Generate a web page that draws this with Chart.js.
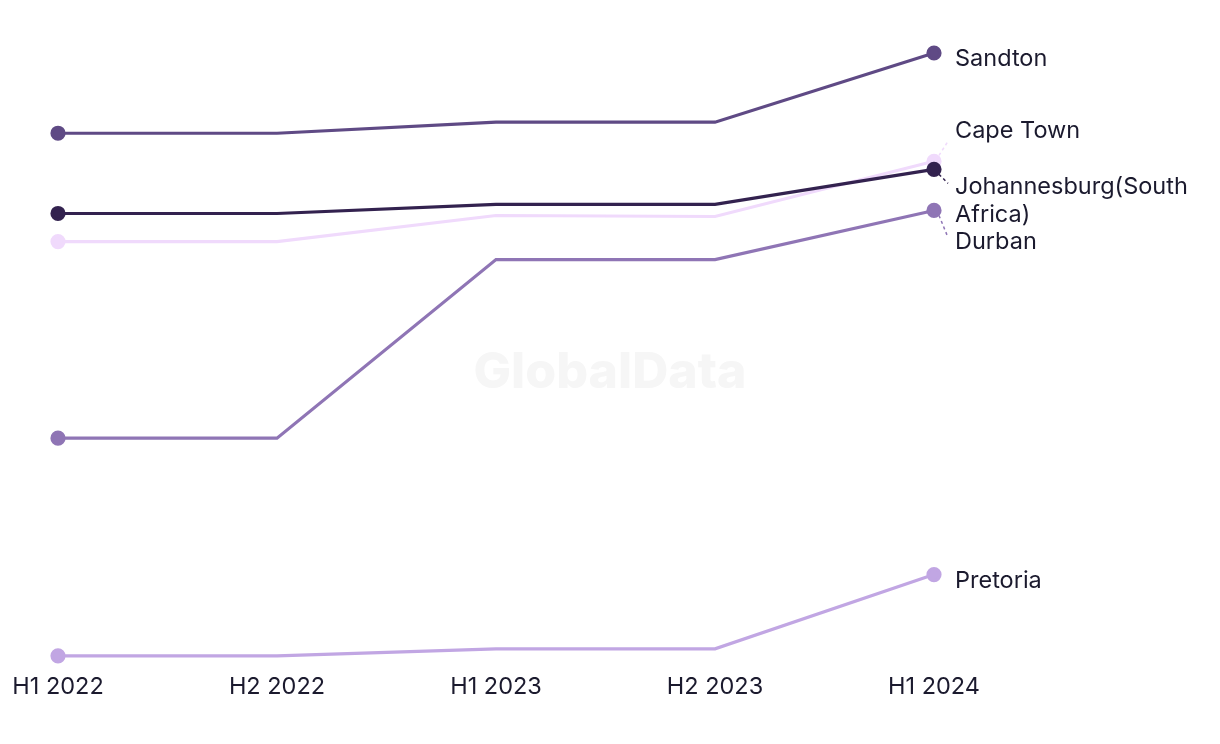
<!DOCTYPE html>
<html>
<head>
<meta charset="utf-8">
<script src="https://cdn.jsdelivr.net/npm/chart.js@4"></script>
<style>
html,body{margin:0;padding:0;background:#fff}
#wrap{position:relative;width:1220px;height:744px}
</style>
</head>
<body>
<div id="wrap"><canvas id="chart"></canvas></div>
<script>
// data (arbitrary index units)
const periods = ['H1 2022', 'H2 2022', 'H1 2023', 'H2 2023', 'H1 2024']
const cities = ['Sandton', 'Johannesburg(South Africa)', 'Cape Town', 'Durban', 'Pretoria']
const sandton = [56.7, 56.7, 57.8, 57.8, 64.7]
const johannesburg = [48.7, 48.7, 49.6, 49.6, 53.1]
const capeTown = [45.9, 45.9, 48.5, 48.4, 53.9]
const durban = [26.3, 26.3, 44.1, 44.1, 49.0]
const pretoria = [4.6, 4.6, 5.3, 5.3, 12.7]

// styles
const colors = ['#5f4a85', '#33224f', '#f0dafc', '#8f75b5', '#c1a6e3']
const labelShift = [6, 18, -30, 31, 6]   // vertical nudge of end labels
const textColor = '#1b1a2e'
const fontFamily = 'Inter, "Liberation Sans", sans-serif'

const series = [sandton, johannesburg, capeTown, durban, pretoria]

const datasets = series.map((vals, i) => ({
  label: cities[i],
  data: vals,
  borderColor: colors[i],
  backgroundColor: colors[i],
  borderWidth: 3.2,
  pointRadius: vals.map((v, j) => (j == 0 || j == vals.length - 1) ? 6 : 0),
  pointHoverRadius: 6,
  tension: 0,
  clip: false
}))

// end labels + connector lines
const endLabels = {
  id: 'endLabels',
  afterDatasetsDraw(chart) {
    const ctx = chart.ctx
    ctx.save()
    ctx.font = '23.5px ' + fontFamily
    ctx.textBaseline = 'middle'
    chart.data.datasets.forEach((ds, i) => {
      const pts = chart.getDatasetMeta(i).data
      const p = pts[pts.length - 1]
      const tx = p.x + 21
      const ty = p.y + labelShift[i]
      // wrap words
      const words = ds.label.split(' ')
      let lines = [], cur = ''
      words.forEach(w => {
        const test = cur ? cur + ' ' + w : w
        if (ctx.measureText(test).width > 255 && cur) { lines.push(cur); cur = w } else cur = test
      })
      lines.push(cur)
      if (Math.abs(labelShift[i]) > 10) {
        ctx.strokeStyle = ds.borderColor
        ctx.lineWidth = 1.5
        ctx.setLineDash([3, 3])
        ctx.beginPath()
        ctx.moveTo(p.x + 5, p.y + (labelShift[i] > 0 ? 5 : -6))
        ctx.lineTo(tx - 7, ty + (labelShift[i] > 0 ? -4 : 10))
        ctx.stroke()
        ctx.setLineDash([])
      }
      ctx.fillStyle = textColor
      lines.forEach((l, k) => ctx.fillText(l, tx, ty + k * 28))
    })
    ctx.restore()
  }
}

const watermark = {
  id: 'watermark',
  beforeDatasetsDraw(chart) {
    const ctx = chart.ctx
    ctx.save()
    ctx.font = '800 50px ' + fontFamily
    ctx.fillStyle = '#f6f6f6'
    ctx.textAlign = 'center'
    ctx.textBaseline = 'middle'
    ctx.fillText('GlobalData', 610, 373)
    ctx.restore()
  }
}

new Chart(document.getElementById('chart'), {
  type: 'line',
  data: { labels: periods, datasets: datasets },
  options: {
    responsive: true,
    maintainAspectRatio: false,
    animation: false,
    layout: { padding: { top: 53, left: 58, right: 286, bottom: 26 } },
    plugins: { legend: { display: false }, tooltip: { enabled: false } },
    scales: {
      x: {
        offset: false,
        grid: { display: false, drawTicks: false },
        border: { display: false },
        ticks: { color: textColor, font: { family: fontFamily, size: 23.5 }, padding: 17, maxRotation: 0 },
        afterFit(scale) {
          scale.paddingLeft = 0
          scale.paddingRight = 0
        }
      },
      y: {
        display: false,
        min: 4.6,
        max: 64.7
      }
    }
  },
  plugins: [watermark, endLabels]
})
</script>
</body>
</html>
